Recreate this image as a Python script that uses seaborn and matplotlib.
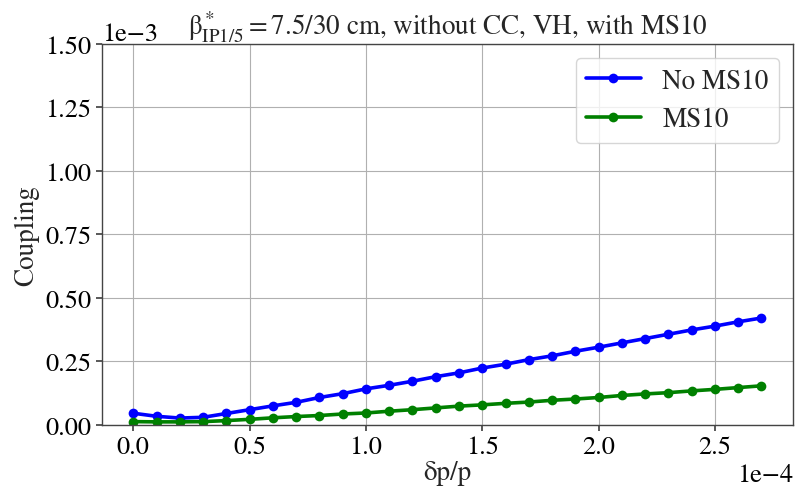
import numpy as np
import pandas as pd
import matplotlib
matplotlib.use("Agg")
import matplotlib.pyplot as plt
import seaborn as sns

dpp = [0.0, 0.1, 0.2, 0.3, 0.4, 0.5, 0.6, 0.7, 0.8, 0.9, 1.0, 1.1, 1.2, 1.3,
       1.4, 1.5, 1.6, 1.7, 1.8, 1.9, 2.0, 2.1, 2.2, 2.3, 2.4, 2.5, 2.6, 2.7]  # x1e-4
no_ms10 = [0.046, 0.034, 0.027, 0.030, 0.045, 0.060, 0.075, 0.089, 0.108, 0.123,
           0.142, 0.156, 0.172, 0.190, 0.205, 0.224, 0.239, 0.257, 0.272, 0.290,
           0.306, 0.323, 0.340, 0.357, 0.374, 0.389, 0.406, 0.421]  # x1e-3
ms10 = [0.013, 0.012, 0.012, 0.013, 0.017, 0.022, 0.028, 0.033, 0.037, 0.043,
        0.047, 0.054, 0.060, 0.067, 0.074, 0.079, 0.085, 0.090, 0.097, 0.102,
        0.108, 0.116, 0.122, 0.127, 0.134, 0.140, 0.147, 0.154]  # x1e-3
labels = ["No MS10", "MS10"]
colors = ["blue", "green"]

x = np.array(dpp) * 1e-4
df = pd.DataFrame({
    "dpp": np.concatenate([x, x]),
    "coupling": np.concatenate([np.array(no_ms10), np.array(ms10)]) * 1e-3,
    "case": [labels[0]] * len(x) + [labels[1]] * len(x),
})

FS = 19.5
sns.set_theme(style="ticks")
plt.rcParams["font.family"] = ["STIXGeneral", "DejaVu Serif"]
plt.rcParams["mathtext.fontset"] = "stix"
plt.rcParams["font.size"] = FS

fig, ax = plt.subplots(figsize=(7.96, 4.89), dpi=100)
fig.subplots_adjust(left=0.128, right=0.996, top=0.908, bottom=0.129)

sns.lineplot(data=df, x="dpp", y="coupling", hue="case", hue_order=labels,
             palette=colors, marker="o", markersize=7, markeredgewidth=0,
             linewidth=2.6, ax=ax)

ax.set_ylim(0, 1.5e-3)
ax.set_yticks(np.arange(0, 1.51e-3, 0.25e-3))
ax.set_xticks(np.arange(0, 2.51e-4, 0.5e-4))
ax.ticklabel_format(style="sci", scilimits=(0, 0), axis="both")
ax.grid(True, color="#b0b0b0", linewidth=0.8)
for s in ax.spines.values():
    s.set_visible(True)
    s.set_color("#444444")
    s.set_linewidth(1.0)
ax.tick_params(labelsize=FS - 0.5, length=4, color="#444444", labelcolor="black")
ax.tick_params(axis="x", pad=3)
ax.xaxis.get_offset_text().set_fontsize(FS - 0.5)
ax.yaxis.get_offset_text().set_fontsize(FS - 0.5)

ax.set_xlabel("δp/p", fontsize=FS, labelpad=1)
ax.set_ylabel("Coupling", fontsize=FS)
ax.set_title(r"$\mathrm{\beta^*_{IP1/5} = 7.5/30}$ cm, without CC, VH, with MS10", fontsize=FS)
leg = ax.legend(loc="upper right", fontsize=FS, frameon=True, handlelength=2.0)
leg.set_title(None)

fig.savefig("out.png", dpi=100)
